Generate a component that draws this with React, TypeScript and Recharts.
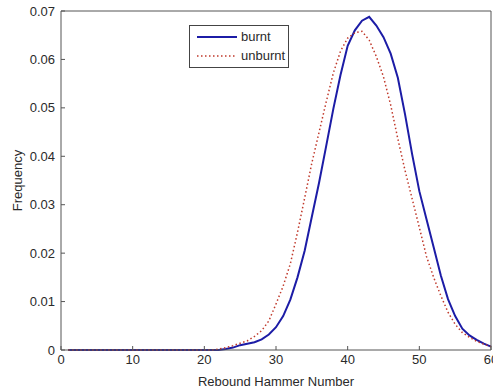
import React from 'react';
import { LineChart, Line, XAxis, YAxis, Legend, Label } from 'recharts';

const xValues = [
  1, 2, 3, 4, 5, 6, 7, 8, 9, 10,
  11, 12, 13, 14, 15, 16, 17, 18, 19, 20,
  21, 22, 23, 24, 25, 26, 27, 28, 29, 30,
  31, 32, 33, 34, 35, 36, 37, 38, 39, 40,
  41, 42, 43, 44, 45, 46, 47, 48, 49, 50,
  51, 52, 53, 54, 55, 56, 57, 58, 59, 60,
];

const burnt = [
  0, 0, 0, 0, 0, 0, 0, 0, 0, 0,
  0, 0, 0, 0, 0, 0, 0, 0, 0, 0,
  0, 0, 0.0002, 0.0005, 0.001, 0.0013, 0.0016, 0.0022, 0.0032, 0.0047,
  0.007, 0.0104, 0.015, 0.0205, 0.0275, 0.0345, 0.0421, 0.0498, 0.0568, 0.0628,
  0.066, 0.068, 0.0688, 0.067, 0.0646, 0.0612, 0.0562, 0.0487, 0.0404, 0.0328,
  0.027, 0.0212, 0.0154, 0.0105, 0.007, 0.0044, 0.003, 0.0021, 0.0013, 0.0007,
];

const unburnt = [
  0, 0, 0, 0, 0, 0, 0, 0, 0, 0,
  0, 0, 0, 0, 0, 0, 0, 0, 0, 0,
  0, 0.0002, 0.0005, 0.0009, 0.0014, 0.0019, 0.0028, 0.004, 0.006, 0.0095,
  0.0132, 0.0178, 0.0243, 0.0314, 0.0386, 0.0449, 0.0512, 0.0572, 0.0617, 0.0644,
  0.0655, 0.0658, 0.064, 0.0606, 0.0564, 0.0506, 0.0436, 0.0371, 0.0312, 0.0253,
  0.0193, 0.015, 0.0112, 0.0078, 0.0053, 0.0036, 0.0026, 0.0018, 0.0012, 0.0007,
];

const xTicks = [0, 10, 20, 30, 40, 50, 60];
const yTicks = [0, 0.01, 0.02, 0.03, 0.04, 0.05, 0.06, 0.07];
const yTickLabels = ['0', '0.01', '0.02', '0.03', '0.04', '0.05', '0.06', '0.07'];

const seriesNames = ['burnt', 'unburnt'];
const seriesColors = ['#1c1ca6', '#c0392b'];

const data = xValues.map((x, i) => ({ x, burnt: burnt[i], unburnt: unburnt[i] }));

const FONT = '"Liberation Sans", Arial, Helvetica, sans-serif';
const AXIS = '#555';
const TEXT = '#2a2a2a';

const renderLegend = () => (
  <div
    style={{
      position: 'relative',
      width: 100,
      height: 43,
      boxSizing: 'border-box',
      border: '1px solid #444',
      background: '#fff',
      fontFamily: FONT,
      fontSize: 13,
      color: TEXT,
    }}
  >
    {seriesNames.map((name, i) => (
      <div key={name}>
        <svg
          width={44}
          height={6}
          style={{ position: 'absolute', left: 6, top: (i === 0 ? 12 : 30.5) - 3 - 1 }}
        >
          <line
            x1={1}
            x2={41}
            y1={3}
            y2={3}
            stroke={seriesColors[i]}
            strokeWidth={i === 0 ? 2 : 1.5}
            strokeDasharray={i === 0 ? undefined : '1.5 2.5'}
          />
        </svg>
        <span
          style={{
            position: 'absolute',
            left: 51,
            top: (i === 0 ? 12 : 30.5) - 9 - 1,
            lineHeight: '18px',
            whiteSpace: 'nowrap',
          }}
        >
          {name}
        </span>
      </div>
    ))}
  </div>
);

export default function App() {
  return (
    <div style={{ position: 'absolute', left: 0, top: 0, width: 493, height: 389, background: '#fff' }}>
      <LineChart
        width={493}
        height={389}
        data={data}
        margin={{ top: 10, right: 1, bottom: 0, left: 0 }}
        style={{ fontFamily: FONT }}
      >
        <XAxis
          xAxisId="b"
          type="number"
          dataKey="x"
          domain={[0, 60]}
          ticks={xTicks}
          interval={0}
          height={39}
          tickSize={-4}
          tickMargin={9}
          stroke={AXIS}
          axisLine={{ stroke: AXIS }}
          tickLine={{ stroke: AXIS }}
          tick={{ fontSize: 13, fill: TEXT, fontFamily: FONT }}
        >
          <Label
            value="Rebound Hammer Number"
            position="insideBottom"
            offset={3}
            style={{ fontSize: 13, fill: TEXT, fontFamily: FONT }}
          />
        </XAxis>
        <XAxis
          xAxisId="t"
          orientation="top"
          type="number"
          dataKey="x"
          domain={[0, 60]}
          ticks={xTicks}
          interval={0}
          height={1}
          tickSize={-4}
          tick={false}
          stroke={AXIS}
          axisLine={{ stroke: AXIS }}
          tickLine={{ stroke: AXIS }}
        />
        <YAxis
          yAxisId="l"
          type="number"
          domain={[0, 0.07]}
          ticks={yTicks}
          interval={0}
          width={61}
          tickSize={-4}
          tickMargin={10}
          tickFormatter={(v: number) => yTickLabels[yTicks.findIndex((t) => Math.abs(t - v) < 1e-9)] ?? String(v)}
          stroke={AXIS}
          axisLine={{ stroke: AXIS }}
          tickLine={{ stroke: AXIS }}
          tick={{ fontSize: 13, fill: TEXT, fontFamily: FONT }}
        >
          <Label
            value="Frequency"
            angle={-90}
            position="insideLeft"
            offset={17}
            style={{ fontSize: 13, fill: TEXT, fontFamily: FONT, textAnchor: 'middle' }}
          />
        </YAxis>
        <YAxis
          yAxisId="r"
          orientation="right"
          type="number"
          domain={[0, 0.07]}
          ticks={yTicks}
          interval={0}
          width={1}
          tickSize={-4}
          tick={false}
          stroke={AXIS}
          axisLine={{ stroke: AXIS }}
          tickLine={{ stroke: AXIS }}
        />
        <Line
          xAxisId="b"
          yAxisId="l"
          type="linear"
          dataKey="burnt"
          name={seriesNames[0]}
          stroke={seriesColors[0]}
          strokeWidth={2}
          dot={false}
          isAnimationActive={false}
        />
        <Line
          xAxisId="t"
          yAxisId="r"
          type="linear"
          dataKey="unburnt"
          name={seriesNames[1]}
          stroke={seriesColors[1]}
          strokeWidth={1.5}
          strokeDasharray="1.5 2.5"
          dot={false}
          isAnimationActive={false}
        />
        <Legend
          layout="vertical"
          align="center"
          verticalAlign="middle"
          content={renderLegend}
          wrapperStyle={{ left: 189, top: 25, width: 100, height: 43 }}
        />
      </LineChart>
    </div>
  );
}
